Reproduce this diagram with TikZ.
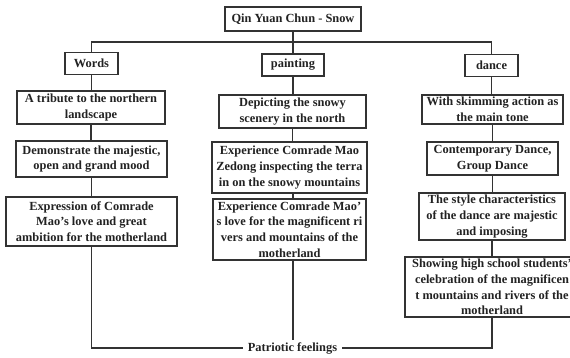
\documentclass[tikz,border=0pt]{standalone}
\usepackage{fontspec}
\setmainfont{Liberation Serif}
\definecolor{linec}{HTML}{333333}
\definecolor{textc}{HTML}{222222}
\newcommand{\aps}{\char"0027\relax}
\tikzset{
  box/.style={draw=linec, line width=1.1pt, align=center, inner sep=0pt,
    text=textc, font=\bfseries\fontsize{12.4}{15.8}\selectfont},
  conn/.style={draw=linec, line width=1.1pt},
  lbl/.style={text=textc, inner xsep=5pt, inner ysep=2pt, font=\bfseries\fontsize{12.4}{15.8}\selectfont}
}
\begin{document}
\begin{tikzpicture}[x=1pt,y=-1pt]
\useasboundingbox (0,0) rectangle (570,357);
\fill[white] (0,0) rectangle (570,357);
% top
\node[box, minimum width=136pt, minimum height=24pt] (title) at (293,19) {Qin Yuan Chun - Snow};
\coordinate (hl) at (293,42);
\node[box, minimum width=53pt, minimum height=22pt] (words) at (91.5,63.5) {Words};
\node[box, minimum width=62pt, minimum height=22pt] (painting) at (293,65) {painting};
\node[box, minimum width=53pt, minimum height=22pt] (dance) at (491.5,65.5) {dance};
% words column
\node[box, minimum width=148pt, minimum height=33pt] (A) at (91,107.5) {A tribute to the northern\\landscape};
\node[box, minimum width=151pt, minimum height=36pt] (B) at (91.5,159) {Demonstrate the majestic,\\open and grand mood};
\node[box, minimum width=171pt, minimum height=49pt] (C) at (91.5,221.5) {Expression of Comrade\\Mao\aps s love and great\\ambition for the motherland};
% painting column
\node[box, minimum width=147pt, minimum height=33pt] (D) at (292.5,111.5) {Depicting the snowy\\scenery in the north};
\node[box, minimum width=155pt, minimum height=51pt] (E) at (289.5,167.5) {Experience Comrade Mao\\Zedong inspecting the terra\\in on the snowy mountains};
\node[box, minimum width=153pt, minimum height=61pt] (F) at (289.5,229.5) {Experience Comrade Mao\aps\\s love for the magnificent ri\\vers and mountains of the\\motherland};
% dance column
\node[box, minimum width=141pt, minimum height=29pt] (G) at (492.5,109.5) {With skimming action as\\the main tone};
\node[box, minimum width=131pt, minimum height=33pt] (H) at (492.5,158.5) {Contemporary Dance,\\Group Dance};
\node[box, minimum width=146pt, minimum height=47pt] (I) at (492,216.5) {The style characteristics\\of the dance are majestic\\and imposing};
\node[box, minimum width=174pt, minimum height=60pt] (J) at (492,287) {Showing high school students\aps\\celebration of the magnificen\\t mountains and rivers of the\\motherland};
% bottom label
\node[lbl] (pf) at (292.5,348) {Patriotic feelings};
% connectors
\draw[conn] (title.south) -- (hl);
\draw[conn] (words.north) -- (words.north |- hl) -- (dance.north |- hl) -- (dance.north);
\draw[conn] (painting.north) -- (painting.north |- hl);
\draw[conn] (words.south) -- (words.south |- A.north);
\draw[conn] (A.south) -- (A.south |- B.north);
\draw[conn] (B.south) -- (B.south |- C.north);
\draw[conn] (painting.south) -- (painting.south |- D.north);
\draw[conn] (D.south) -- (D.south |- E.north);
\draw[conn] (E.south -| painting) -- (painting |- F.north);
\draw[conn] (dance.south) -- (dance.south |- G.north);
\draw[conn] (G.south) -- (G.south |- H.north);
\draw[conn] (H.south) -- (H.south |- I.north);
\draw[conn] (I.south) -- (I.south |- J.north);
\draw[conn] (C.south) |- (pf.west);
\draw[conn] (J.south) |- (pf.east);
\draw[conn] (F.south -| painting) -- (painting |- pf.north);
\end{tikzpicture}
\end{document}
